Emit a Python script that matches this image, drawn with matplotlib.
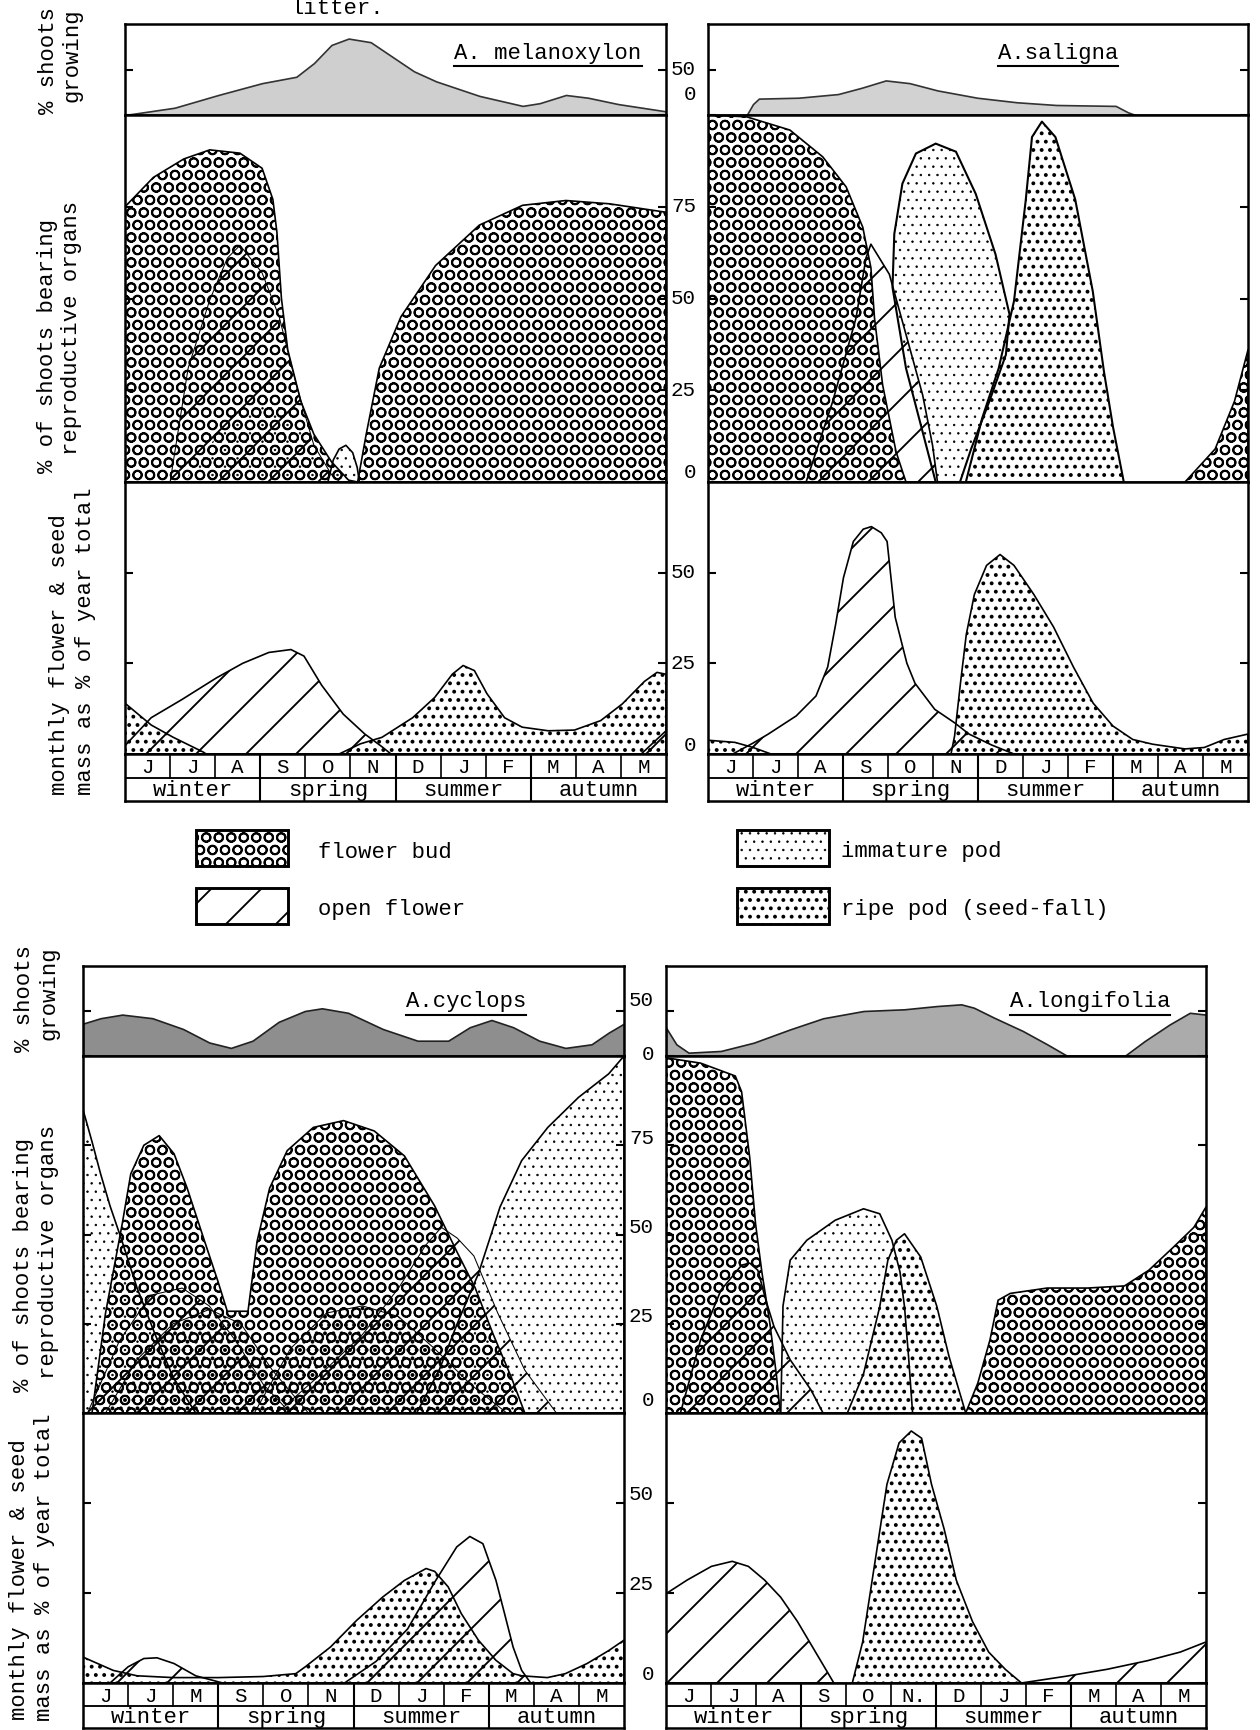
import matplotlib
matplotlib.use("Agg")
import matplotlib.pyplot as plt
from matplotlib.patches import Rectangle
from matplotlib.lines import Line2D
from matplotlib.transforms import IdentityTransform, ScaledTranslation

plt.rcParams['font.family'] = ['Liberation Mono', 'DejaVu Sans Mono']
plt.rcParams['hatch.color'] = 'black'

W, H, DPI = 1260, 1730, 150
FS = 10.7

# month / season strip
months = ["J", "J", "A", "S", "O", "N", "D", "J", "F", "M", "A", "M"]
months_cyc = ["J", "J", "M", "S", "O", "N", "D", "J", "F", "M", "A", "M"]
months_lon = ["J", "J", "A", "S", "O", "N.", "D", "J", "F", "M", "A", "M"]
seasons = ["winter", "spring", "summer", "autumn"]

# ---- A. melanoxylon ----
mel_shoot_x = [0, 1.1, 2.07, 3.04, 3.8, 4.19, 4.58, 4.96, 5.45, 5.93, 6.41, 6.9, 7.86, 8.82, 9.2, 9.78, 10.27, 10.94, 12]
mel_shoot_y = [0, 8, 22, 35, 42, 57, 77, 84, 80, 64, 48, 37, 21, 10, 13, 22, 19, 12, 4]
mel_bud_x = [0, 0.63, 1.3, 1.88, 2.55, 3.04, 3.28, 3.37, 3.47, 3.61, 3.9, 4.19, 4.58, 4.96, 5.16, 5.35, 5.64, 6.12, 6.89, 7.86, 8.82, 9.78, 10.75, 12]
mel_bud_y = [75, 83, 88, 90.5, 89.6, 85.5, 77, 68, 50, 36, 22, 13, 5.5, 0.5, 0, 13, 31, 45, 59, 70, 75.4, 76.7, 75.8, 73.5]
mel_open_x = [1.0, 1.4, 1.88, 2.27, 2.55, 3.04, 3.42, 3.8, 4.19, 4.58, 4.77]
mel_open_y = [0, 31, 49.6, 61, 64.5, 57, 45, 26.5, 10, 2, 0]
mel_imm1_x = [1.3, 2.0, 2.8, 3.4, 3.9, 4.3, 4.55]
mel_imm1_y = [0, 12, 20, 22, 14, 6, 0]
mel_imm2_x = [4.5, 4.62, 4.75, 4.9, 5.05, 5.15, 5.2]
mel_imm2_y = [0, 6, 9, 10, 8, 4, 0]
mel_ripe_m_x = [0, 0.58, 1.07, 1.74, 1.8, 4.75, 5.22, 5.7, 6.38, 6.87, 7.26, 7.5, 7.75, 8.03, 8.42, 8.81, 9.39, 9.97, 10.55, 11.03, 11.52, 11.8, 12]
mel_ripe_m_y = [14, 8, 4.6, 0.5, 0, 0, 2.8, 4.6, 10, 15.6, 22, 24.4, 23, 16.6, 10, 7.4, 6.4, 6.6, 9.2, 13.8, 20, 22.5, 22]
mel_open_m_x = [0, 0.58, 1.26, 2.03, 2.61, 3.19, 3.68, 3.97, 4.36, 4.84, 5.32, 5.7, 5.9]
mel_open_m_y = [2.3, 10, 15, 21, 25, 28, 28.8, 27, 19, 11, 5.5, 2, 0]
mel_open_m2_x = [11.45, 12]
mel_open_m2_y = [0, 6.4]

# ---- A. saligna ----
sal_shoot_x = [0.86, 1.0, 1.13, 2.01, 2.89, 3.42, 3.95, 4.48, 5.1, 5.98, 6.86, 7.74, 9.06, 9.33, 9.5]
sal_shoot_y = [0, 12, 18, 19, 23, 30, 38, 35, 27, 19, 14, 11, 10, 3, 0]
sal_bud_x = [0, 0.86, 1.82, 2.55, 3.07, 3.44, 3.62, 3.70, 3.88, 4.18, 4.40]
sal_bud_y = [100, 99.5, 95.9, 88.6, 80.4, 69.4, 58.4, 44.7, 26.5, 8.2, 0]
sal_bud2_x = [10.6, 11.27, 11.7, 12]
sal_bud2_y = [0, 9, 22, 36]
sal_open_x = [2.18, 2.77, 3.29, 3.51, 3.62, 4.03, 4.40, 4.77, 4.99, 5.10]
sal_open_y = [0, 21.9, 44.7, 61, 64.8, 56.6, 40.2, 23.7, 10, 0]
sal_imm_x = [5.06, 4.40, 4.10, 4.14, 4.32, 4.62, 5.06, 5.51, 5.95, 6.39, 6.7, 6.62, 6.25, 5.85, 5.6]
sal_imm_y = [0, 31, 53, 67.6, 81.3, 89.5, 92.2, 90, 78.5, 62, 45.7, 34.7, 21.9, 9.1, 0]
sal_ripe_x = [5.73, 6.09, 6.46, 6.80, 7.06, 7.20, 7.42, 7.72, 8.16, 8.55, 8.8, 9.0, 9.24]
sal_ripe_y = [0, 17.3, 31, 49.3, 76.7, 94, 98.2, 94, 77, 52, 30, 15, 0]
sal_open_m_x = [0.55, 1.0, 1.34, 1.96, 2.4, 2.66, 2.84, 3.01, 3.23, 3.45, 3.63, 3.85, 3.98, 4.16, 4.42, 4.6, 5.04, 5.48, 5.8, 6.3, 6.8]
sal_open_m_y = [0, 3, 5.5, 10.5, 16, 24, 36, 48.6, 58.6, 62, 62.7, 61, 58.6, 37.7, 25, 19.5, 12.3, 8.6, 5.5, 2.5, 0]
sal_ripe_m_x = [0, 0.6, 1.0, 1.4, 5.4, 5.48, 5.61, 5.74, 5.92, 6.19, 6.49, 6.8, 7.24, 7.68, 8.12, 8.56, 9.0, 9.44, 9.88, 10.6, 11.03, 11.47, 12]
sal_ripe_m_y = [3.8, 3.2, 1.8, 0, 0, 5, 19.5, 33, 44, 52, 55, 52, 44, 35, 24, 14, 7.7, 4, 2.7, 1.4, 1.8, 4, 5.5]

# ---- A. cyclops ----
cyc_shoot_x = [0, 0.39, 0.87, 1.54, 2.22, 2.8, 3.28, 3.76, 4.34, 4.92, 5.3, 5.88, 6.65, 7.42, 8.1, 8.58, 9.06, 9.54, 10.12, 10.7, 11.28, 11.66, 12]
cyc_shoot_y = [36, 42, 46, 42, 30, 15, 9, 17, 38, 50, 53, 48, 30, 17, 17, 32, 40, 32, 17, 9, 13, 26, 36]
cyc_imm1_x = [0, 0.2, 0.39, 0.6, 0.87, 1.2, 1.6, 2.0, 2.5]
cyc_imm1_y = [85, 76, 67, 58, 48, 35, 22, 10, 0]
cyc_bud_x = [0.2, 0.5, 0.87, 1.06, 1.35, 1.69, 2.02, 2.31, 2.7, 2.99, 3.2, 3.66, 3.86, 4.14, 4.53, 5.11, 5.78, 6.46, 7.13, 7.8, 8.3, 8.7, 9.1, 9.5, 9.8]
cyc_bud_y = [0, 28, 53, 67, 75, 77.7, 72.6, 63, 48, 37, 28.5, 28.5, 48, 63, 73.5, 80, 81.9, 79, 72, 58, 45, 35, 22, 10, 0]
cyc_open1_x = [0.1, 0.8, 1.5, 2.2, 2.8, 3.4, 4.0, 4.6]
cyc_open1_y = [0, 20, 33, 35, 30, 20, 8, 0]
cyc_ripe1_x = [0.5, 1.2, 2.0, 2.8, 3.5, 4.2, 5.0]
cyc_ripe1_y = [0, 15, 25, 29, 25, 12, 0]
cyc_open2_x = [4.3, 5.2, 6.2, 7.0, 7.6, 7.95, 8.3, 8.67, 9.2, 9.8, 10.5]
cyc_open2_y = [0, 10, 22, 35, 47, 52, 49, 44, 28, 12, 0]
cyc_ripe2_x = [3.8, 4.6, 5.4, 6.2, 7.0, 7.8, 8.6, 9.4]
cyc_ripe2_y = [0, 18, 28, 30, 27, 18, 8, 0]
cyc_imm2_x = [7.4, 7.9, 8.3, 8.77, 9.25, 9.73, 10.31, 10.99, 11.66, 12]
cyc_imm2_y = [0, 12, 25, 39, 57.7, 70.7, 80, 88.4, 95, 100]
cyc_ripe_m_x = [0, 0.67, 1.2, 2.0, 3.0, 4.0, 4.72, 4.92, 5.49, 6.07, 6.65, 7.13, 7.61, 7.8, 8.1, 8.39, 8.77, 9.16, 9.54, 9.73, 10.3, 10.7, 11.18, 11.66, 12]
cyc_ripe_m_y = [7.2, 3.5, 2, 1.5, 1.5, 1.8, 2.6, 4.4, 10, 17.4, 23.9, 28.5, 31.8, 31, 26.7, 19.3, 11.9, 6.3, 2.6, 2, 1.5, 2.6, 5.4, 9, 11.9]
cyc_open_m1_x = [0.6, 1.0, 1.35, 1.64, 2.02, 2.5, 2.8, 3.1]
cyc_open_m1_y = [0, 4.5, 6.8, 7.0, 5.4, 2, 1, 0]
cyc_open_m2_x = [5.8, 6.5, 7.2, 7.8, 8.29, 8.58, 8.87, 9.16, 9.35, 9.54, 9.73, 9.93]
cyc_open_m2_y = [0, 6, 15, 28, 37.8, 40.7, 38.7, 28.5, 19.3, 10, 3.5, 0]

# ---- A. longifolia ----
lon_shoot_x = [0, 0.23, 0.5, 1.22, 1.95, 2.76, 3.49, 4.39, 5.3, 6.02, 6.56, 6.84, 7.29, 7.93, 8.47, 8.92, 10.19, 10.64, 11.19, 11.64, 12]
lon_shoot_y = [31.5, 13, 3.7, 5.6, 14.8, 29.6, 41.9, 50, 51.9, 55.5, 57.4, 53.7, 42.6, 27.8, 13, 0, 0, 16.7, 35, 48, 46]
lon_bud_x = [0, 0.77, 1.54, 1.68, 1.86, 1.99, 2.13, 2.31, 2.45, 2.54]
lon_bud_y = [99.5, 98, 94.4, 90, 71.6, 53, 39.5, 25, 11, 0]
lon_bud2_x = [6.66, 6.93, 7.2, 7.38, 7.65, 8.47, 9.37, 10.19, 10.73, 11.28, 11.73, 12]
lon_bud2_y = [0, 8.4, 20.5, 31.6, 33.5, 35, 35, 35.6, 40, 46.5, 52, 57.7]
lon_open_x = [0.32, 0.77, 1.22, 1.68, 1.86, 2.04, 2.22, 2.4, 2.76, 3.22, 3.49]
lon_open_y = [0, 20.5, 34.4, 41.4, 42, 40, 31.6, 24.2, 14.9, 6.5, 0]
lon_imm_x = [2.55, 2.6, 2.76, 3.13, 3.76, 4.39, 4.75, 5.02, 5.2, 5.3, 5.39, 5.48]
lon_imm_y = [0, 30, 42.8, 48.4, 54, 57.2, 55.8, 48.4, 39.5, 29.8, 15.8, 0]
lon_ripe_x = [4.03, 4.39, 4.75, 4.93, 5.12, 5.30, 5.66, 6.02, 6.29, 6.66]
lon_ripe_y = [0, 11, 29.8, 42.8, 48.4, 50.2, 43.7, 29.8, 15.8, 0]
lon_open_m_x = [0, 0.47, 1.01, 1.47, 1.83, 2.19, 2.55, 2.92, 3.28, 3.55, 3.73]
lon_open_m_y = [24.8, 28.6, 32.4, 33.8, 32.4, 28.6, 23.8, 17.1, 9.5, 3.8, 0]
lon_ripe_m_x = [4.14, 4.37, 4.64, 4.91, 5.18, 5.45, 5.68, 5.9, 6.18, 6.45, 6.81, 7.17, 7.54, 7.9]
lon_ripe_m_y = [0, 11.4, 33.3, 55.2, 66.7, 70, 68, 55.2, 42.8, 28.6, 17.1, 8.6, 3.8, 0]
lon_open_m2_x = [7.9, 8.9, 9.8, 10.7, 11.43, 12]
lon_open_m2_y = [0, 1.9, 3.8, 6.2, 8.6, 11.4]

legend_labels = ["flower bud", "open flower", "immature pod", "ripe pod (seed-fall)"]

# hatch, hatch linewidth for each organ
BUD = ('OO', 0.9)
OPEN = ('/', 0.9)
IMM = ('...', 0.35)
RIPE = ('...', 1.05)

fig = plt.figure(figsize=(W / DPI, H / DPI), dpi=DPI)


def rect(x0, x1, y0, y1):
    return [x0 / W, 1 - y1 / H, (x1 - x0) / W, (y1 - y0) / H]


def area(ax, x, y, style, lw=0.8, poly=False):
    hatch, hlw = style
    with plt.rc_context({'hatch.linewidth': hlw}):
        if poly:
            ax.fill(x, y, facecolor='none', edgecolor='black', hatch=hatch, linewidth=lw)
        else:
            ax.fill_between(x, y, 0, facecolor='none', edgecolor='black', hatch=hatch, linewidth=lw)


def tick_text(ax, values, lift, zero_lift):
    # numbers written on the left of the frame, a little above their tick
    for v in values:
        dy = zero_lift if v == 0 else lift
        tr = ax.get_yaxis_transform() + ScaledTranslation(-12 / DPI, dy / DPI, fig.dpi_scale_trans)
        ax.text(0, v, str(v), transform=tr, ha='right', va='center', fontsize=10)


def make_panel(x0, x1, ys, month_names, lifts=None):
    ax_s = fig.add_axes(rect(x0, x1, ys[0], ys[1]))
    ax_r = fig.add_axes(rect(x0, x1, ys[1], ys[2]))
    ax_m = fig.add_axes(rect(x0, x1, ys[2], ys[3]))
    ax_t = fig.add_axes(rect(x0, x1, ys[3], ys[5]))
    for k, (ax, top, ticks) in enumerate([(ax_s, 100, [0, 50]), (ax_r, 100, [0, 25, 50, 75]),
                                          (ax_m, 75, [0, 25, 50])]):
        ax.set_xlim(0, 12)
        ax.set_ylim(0, top)
        ax.set_xticks([])
        ax.set_yticks(ticks)
        ax.tick_params(axis='y', direction='in', length=4, width=1.0, left=True, right=True,
                       labelleft=False)
        for sp in ax.spines.values():
            sp.set_linewidth(1.2)
        if lifts is not None:
            tick_text(ax, ticks, lifts[k][0], lifts[k][1])
    # month / season strip
    ax_t.set_xlim(0, 12)
    ax_t.set_ylim(0, 2)
    ax_t.set_xticks([])
    ax_t.set_yticks([])
    for sp in ax_t.spines.values():
        sp.set_linewidth(1.2)
    ax_t.plot([0, 12], [1, 1], color='black', lw=0.9)
    for i in range(1, 12):
        ax_t.plot([i, i], [1, 2], color='black', lw=0.8)
    for i in (3, 6, 9):
        ax_t.plot([i, i], [0, 2], color='black', lw=1.0)
    for i, m in enumerate(month_names):
        ax_t.text(i + 0.5, 1.42, m, ha='center', va='center', fontsize=FS - 0.7)
    for i, s in enumerate(seasons):
        ax_t.text(3 * i + 1.5, 0.45, s, ha='center', va='center', fontsize=FS)
    return ax_s, ax_r, ax_m


def ylabels(rows):
    for (x1, c1, t1, x2, c2, t2) in rows:
        fig.text(x1 / W, 1 - c1 / H, t1, rotation=90, ha='center', va='center', fontsize=FS)
        fig.text(x2 / W, 1 - c2 / H, t2, rotation=90, ha='center', va='center', fontsize=FS)


species = []

# ---------- top left : A. melanoxylon ----------
s, r, m = make_panel(125, 666, [24, 115, 482, 754, 779, 801], months)
s.fill_between(mel_shoot_x, mel_shoot_y, 0, facecolor='#cfcfcf', edgecolor='#333333', linewidth=0.8)
area(r, mel_bud_x, mel_bud_y, BUD)
area(r, mel_open_x, mel_open_y, OPEN, lw=0.5)
area(r, mel_imm1_x, mel_imm1_y, IMM, lw=0)
area(r, mel_imm2_x, mel_imm2_y, IMM)
area(m, mel_ripe_m_x, mel_ripe_m_y, RIPE)
area(m, mel_open_m_x, mel_open_m_y, OPEN)
area(m, mel_open_m2_x, mel_open_m2_y, OPEN)
species.append(fig.text(548 / W, 1 - 53 / H, "A. melanoxylon", ha='center', va='center', fontsize=FS))

# ---------- top right : A. saligna ----------
s, r, m = make_panel(708, 1248, [24, 115, 482, 754, 779, 801], months,
                     lifts=[(0, 20), (0, 9), (0, 9)])
s.fill_between(sal_shoot_x, sal_shoot_y, 0, facecolor='#d2d2d2', edgecolor='#333333', linewidth=0.8)
area(r, sal_bud_x, sal_bud_y, BUD)
area(r, sal_bud2_x, sal_bud2_y, BUD)
area(r, sal_open_x, sal_open_y, OPEN)
area(r, sal_imm_x, sal_imm_y, IMM, lw=1.0, poly=True)
area(r, sal_ripe_x, sal_ripe_y, RIPE, lw=1.0)
area(m, sal_open_m_x, sal_open_m_y, OPEN)
area(m, sal_ripe_m_x, sal_ripe_m_y, RIPE)
species.append(fig.text(1058 / W, 1 - 53 / H, "A.saligna", ha='center', va='center', fontsize=FS))

# ---------- bottom left : A. cyclops ----------
s, r, m = make_panel(83, 624, [966, 1056, 1413, 1683, 1707, 1728], months_cyc)
s.fill_between(cyc_shoot_x, cyc_shoot_y, 0, facecolor='#8e8e8e', edgecolor='#222222', linewidth=0.8)
area(r, cyc_imm1_x, cyc_imm1_y, IMM)
area(r, cyc_bud_x, cyc_bud_y, BUD)
area(r, cyc_open1_x, cyc_open1_y, OPEN, lw=0.5)
area(r, cyc_ripe1_x, cyc_ripe1_y, RIPE, lw=0.5)
area(r, cyc_open2_x, cyc_open2_y, OPEN, lw=0.5)
area(r, cyc_ripe2_x, cyc_ripe2_y, RIPE, lw=0.5)
area(r, cyc_imm2_x, cyc_imm2_y, IMM)
area(m, cyc_ripe_m_x, cyc_ripe_m_y, RIPE)
area(m, cyc_open_m1_x, cyc_open_m1_y, OPEN)
area(m, cyc_open_m2_x, cyc_open_m2_y, OPEN)
species.append(fig.text(466 / W, 1 - 1002 / H, "A.cyclops", ha='center', va='center', fontsize=FS))

# ---------- bottom right : A. longifolia ----------
s, r, m = make_panel(666, 1206, [966, 1056, 1413, 1683, 1707, 1728], months_lon,
                     lifts=[(11, 2), (7, 12), (8, 9)])
s.fill_between(lon_shoot_x, lon_shoot_y, 0, facecolor='#ababab', edgecolor='#222222', linewidth=0.8)
area(r, lon_bud_x, lon_bud_y, BUD)
area(r, lon_bud2_x, lon_bud2_y, BUD)
area(r, lon_open_x, lon_open_y, OPEN)
area(r, lon_imm_x, lon_imm_y, IMM)
area(r, lon_ripe_x, lon_ripe_y, RIPE)
area(m, lon_open_m_x, lon_open_m_y, OPEN)
area(m, lon_ripe_m_x, lon_ripe_m_y, RIPE)
area(m, lon_open_m2_x, lon_open_m2_y, OPEN)
species.append(fig.text(1090 / W, 1 - 1002 / H, "A.longifolia", ha='center', va='center', fontsize=FS))

# axis titles (left side)
ylabels([(48, 60, "% shoots", 72, 55, "growing"),
         (48, 346, "% of shoots bearing", 72, 328, "reproductive organs"),
         (60, 655, "monthly flower & seed", 86, 641, "mass as % of year total")])
ylabels([(24, 998, "% shoots", 49, 993, "growing"),
         (24, 1265, "% of shoots bearing", 49, 1252, "reproductive organs"),
         (20, 1580, "monthly flower & seed", 45, 1567, "mass as % of year total")])

# caption line fragment at the very top
fig.text(337 / W, 1 - 9 / H, "litter.", ha='center', va='center', fontsize=FS)

# legend
for (bx, by), lab, style in zip([(196, 830), (196, 888), (737, 830), (737, 888)], legend_labels,
                                [BUD, OPEN, IMM, RIPE]):
    with plt.rc_context({'hatch.linewidth': style[1]}):
        box = Rectangle((bx / W, 1 - (by + 36) / H), 92 / W, 36 / H, transform=fig.transFigure,
                        facecolor='white', edgecolor='black', hatch=style[0], linewidth=1.4)
    fig.add_artist(box)
    tx = bx + 122 if bx < 500 else bx + 104
    fig.text(tx / W, 1 - (by + 22) / H, lab, ha='left', va='center', fontsize=FS)

# underline species names
fig.canvas.draw()
rend = fig.canvas.get_renderer()
for t in species:
    bb = t.get_window_extent(rend)
    fig.add_artist(Line2D([bb.x0, bb.x1], [bb.y0 - 2, bb.y0 - 2], transform=IdentityTransform(),
                          color='black', lw=1.0))

fig.savefig("out.png", dpi=DPI, facecolor='white')
